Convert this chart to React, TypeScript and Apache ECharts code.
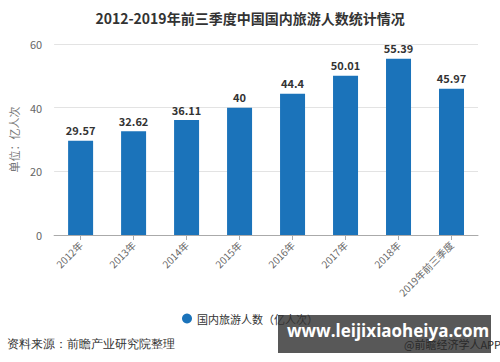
import React, { useEffect, useRef } from "react";
import * as echarts from "echarts";

const categories = ["2012年", "2013年", "2014年", "2015年", "2016年", "2017年", "2018年", "2019年前三季度"];
const values = [29.57, 32.62, 36.11, 40, 44.4, 50.01, 55.39, 45.97];
const seriesName = "国内旅游人数（亿人次）";
const titleText = "2012-2019年前三季度中国国内旅游人数统计情况";
const yAxisName = "单位：亿人次";
const sourceText = "资料来源：前瞻产业研究院整理";
const overlayText = "www.leijixiaoheiya.com";
const credit = "@前瞻经济学人APP";

const FONT = '"Noto Sans CJK SC", "Noto Sans", sans-serif';

export default function App() {
  const ref = useRef<HTMLDivElement>(null);
  useEffect(() => {
    if (!ref.current) return;
    const chart = echarts.init(ref.current, null, { renderer: "svg" });
    chart.setOption({
      animation: false,
      backgroundColor: "#ffffff",
      textStyle: { fontFamily: FONT },
      title: {
        text: titleText,
        left: "center",
        top: 6,
        textStyle: { fontSize: 14, fontWeight: "bold", color: "#333", fontFamily: FONT },
      },
      grid: { left: 50, right: 22, top: 44, bottom: 127 },
      legend: {
        bottom: 33,
        left: "center",
        icon: "circle",
        itemWidth: 10,
        itemHeight: 10,
        itemGap: 6,
        textStyle: { fontSize: 11, color: "#333", fontFamily: FONT },
        data: [seriesName],
      },
      xAxis: {
        type: "category",
        data: categories,
        axisLine: { lineStyle: { color: "#aaa" } },
        axisTick: { show: true, alignWithLabel: true, lineStyle: { color: "#aaa" } },
        axisLabel: { rotate: 45, fontSize: 10, color: "#666", margin: 8, interval: 0, fontFamily: FONT },
      },
      yAxis: {
        type: "value",
        min: 0,
        max: 60,
        interval: 20,
        name: yAxisName,
        nameLocation: "middle",
        nameGap: 26,
        nameRotate: 90,
        nameTextStyle: { fontSize: 11, color: "#777", fontFamily: FONT },
        axisLine: { show: false },
        axisTick: { show: false },
        axisLabel: { fontSize: 11, color: "#666", margin: 12 },
        splitLine: { lineStyle: { color: "#e3e3e3" } },
      },
      series: [
        {
          name: seriesName,
          type: "bar",
          data: values,
          barWidth: 25,
          itemStyle: { color: "#1b73ba" },
          label: {
            show: true,
            position: "top",
            distance: 5,
            fontSize: 11,
            fontWeight: "bold",
            color: "#333",
            fontFamily: FONT,
          },
        },
      ],
      graphic: [
        {
          type: "text",
          left: 7,
          top: 338,
          style: { text: sourceText, fontSize: 12, fill: "#333", font: `12px ${FONT}` },
        },
        {
          type: "rect",
          left: 278,
          top: 315,
          shape: { width: 213, height: 38 },
          style: { fill: "rgba(70,70,70,0.9)" },
        },
        {
          type: "text",
          left: 404,
          top: 338,
          style: { text: credit, font: `11px ${FONT}`, fill: "#2a2a2a" },
        },
        {
          type: "text",
          left: 287,
          top: 322,
          style: { text: overlayText, font: `bold 17px "Open Sans", "DejaVu Sans", sans-serif`, fill: "#ffffff" },
        },
      ],
    });
    return () => chart.dispose();
  }, []);
  return <div ref={ref} style={{ width: 500, height: 362, position: "absolute", left: 0, top: 0 }} />;
}
